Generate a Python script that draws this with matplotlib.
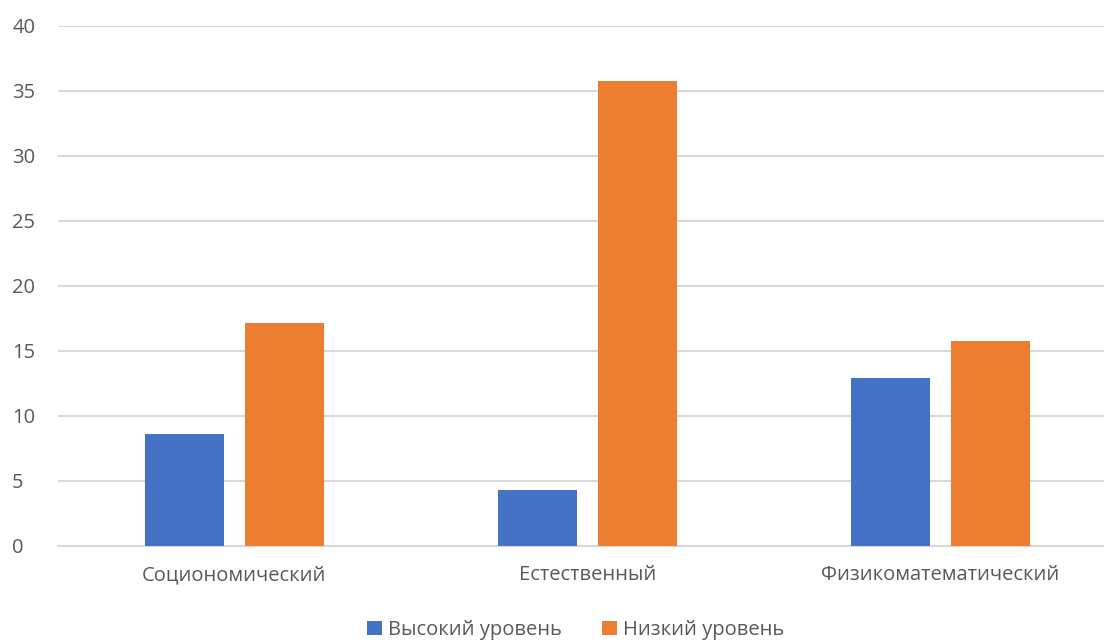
import numpy as np
import matplotlib.pyplot as plt

# Categories and series values
categories = ['Социономический', 'Естественный', 'Физикоматематический']
high_level = [8.6, 4.3, 12.9]
low_level = [17.1, 35.7, 15.7]
series_names = ['Высокий уровень', 'Низкий уровень']
yticks = [0, 5, 10, 15, 20, 25, 30, 35, 40]

plt.rcParams['font.family'] = ['Open Sans', 'DejaVu Sans']
text_color = '#595959'

fig = plt.figure(figsize=(11.04, 6.41), dpi=100)
ax = fig.add_axes([58 / 1104, 95.5 / 641, 1 - 58 / 1104, 520 / 641])

x = np.arange(len(categories))
w = 0.224
off = 0.1416
ax.bar(x - off, high_level, w, color='#4472C4', label=series_names[0], zorder=3)
ax.bar(x + off, low_level, w, color='#ED7D31', label=series_names[1], zorder=3)

ax.set_xlim(-0.5, 2.5 - 12.5 / 353)
ax.set_ylim(0, 40)
ax.set_yticks(yticks)
ax.set_xticks(x)
ax.set_xticklabels(categories)
ax.yaxis.grid(True, color='#d9d9d9', linewidth=1.5, zorder=0)
ax.tick_params(axis='both', length=0, labelsize=14.5, colors=text_color)
ax.tick_params(axis='x', pad=14)
ax.tick_params(axis='y', pad=33)
for lab in ax.get_yticklabels():
    lab.set_horizontalalignment('left')
for s in ['top', 'right', 'left']:
    ax.spines[s].set_visible(False)
ax.spines['bottom'].set_color('#d9d9d9')
ax.spines['bottom'].set_linewidth(1.5)

fig.legend(loc='center', bbox_to_anchor=(575.5 / 1104, 1 - 630 / 641), ncol=2, frameon=False,
           fontsize=14.5, labelcolor=text_color, handlelength=0.75, handleheight=0.75,
           handletextpad=0.3, columnspacing=2.0)

fig.savefig('out.png', dpi=100)
